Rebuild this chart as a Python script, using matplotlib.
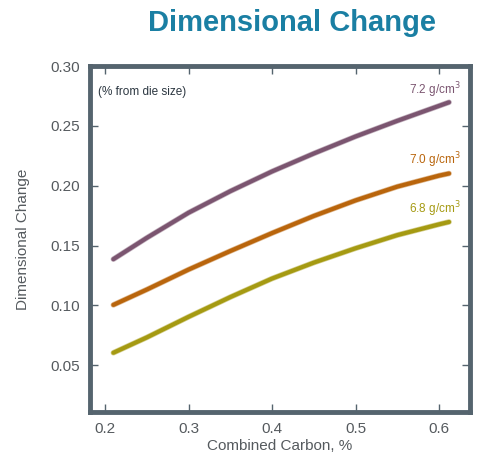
import matplotlib.pyplot as plt
import matplotlib.patheffects as pe

plt.rcParams['font.family'] = ['Liberation Sans', 'DejaVu Sans']

# Combined carbon (%) and dimensional change
carbon = [0.21, 0.25, 0.30, 0.35, 0.40, 0.45, 0.50, 0.55, 0.60, 0.612]
dc_72 = [0.1387, 0.1565, 0.1775, 0.1955, 0.2120, 0.2270, 0.2412, 0.2543, 0.2668, 0.2698]
dc_70 = [0.1005, 0.1133, 0.1300, 0.1455, 0.1605, 0.1748, 0.1878, 0.1993, 0.2085, 0.2103]
dc_68 = [0.0605, 0.0733, 0.0905, 0.1070, 0.1225, 0.1358, 0.1478, 0.1588, 0.1678, 0.1698]

series_labels = ["7.2 g/cm$^3$", "7.0 g/cm$^3$", "6.8 g/cm$^3$"]
colors = ["#7b5570", "#b9650c", "#a59a12"]
label_y = [0.2798, 0.2214, 0.1806]

fig = plt.figure(figsize=(4.8, 4.53), dpi=100)
ax = fig.add_axes([0.1875, 0.0905, 0.7915, 0.7635])

for ys, c, lab, ly in zip([dc_72, dc_70, dc_68], colors, series_labels, label_y):
    ax.plot(carbon, ys, color=c, linewidth=3, solid_capstyle="round",
            solid_joinstyle="round",
            path_effects=[pe.Stroke(linewidth=4, foreground=c, alpha=0.45), pe.Normal()])
    ax.text(0.626, ly, lab, color=c, fontsize=8.5, ha="right", va="center")

ax.text(0.1916, 0.278, "(% from die size)", fontsize=8.5, color="#2b3640",
        ha="left", va="center")

ax.set_xlim(0.182, 0.637)
ax.set_ylim(0.011, 0.30)
ax.set_xticks([0.2, 0.3, 0.4, 0.5, 0.6])
ax.set_xticklabels(["0.2", "0.3", "0.4", "0.5", "0.6"])
ax.set_yticks([0.05, 0.10, 0.15, 0.20, 0.25, 0.30])
ax.set_yticklabels(["0.05", "0.10", "0.15", "0.20", "0.25", "0.30"])

frame = "#55646e"
for s in ax.spines.values():
    s.set_color(frame)
    s.set_linewidth(3.5)
ax.tick_params(direction="in", length=6, width=1, color=frame,
               labelsize=11, labelcolor="#555a5e", pad=7)
ax.tick_params(axis="x", top=True)
ax.tick_params(axis="y", right=True)

ax.set_xlabel("Combined Carbon, %", fontsize=11, color="#555a5e", labelpad=2)
ax.set_ylabel("Dimensional Change", fontsize=11, color="#555a5e")
ax.yaxis.set_label_coords(-0.158, 0.5)

fig.text(0.608, 0.949, "Dimensional Change", fontsize=21, fontweight="bold",
         color="#1a7fa3", ha="center", va="center")

fig.savefig("out.png", dpi=100)
